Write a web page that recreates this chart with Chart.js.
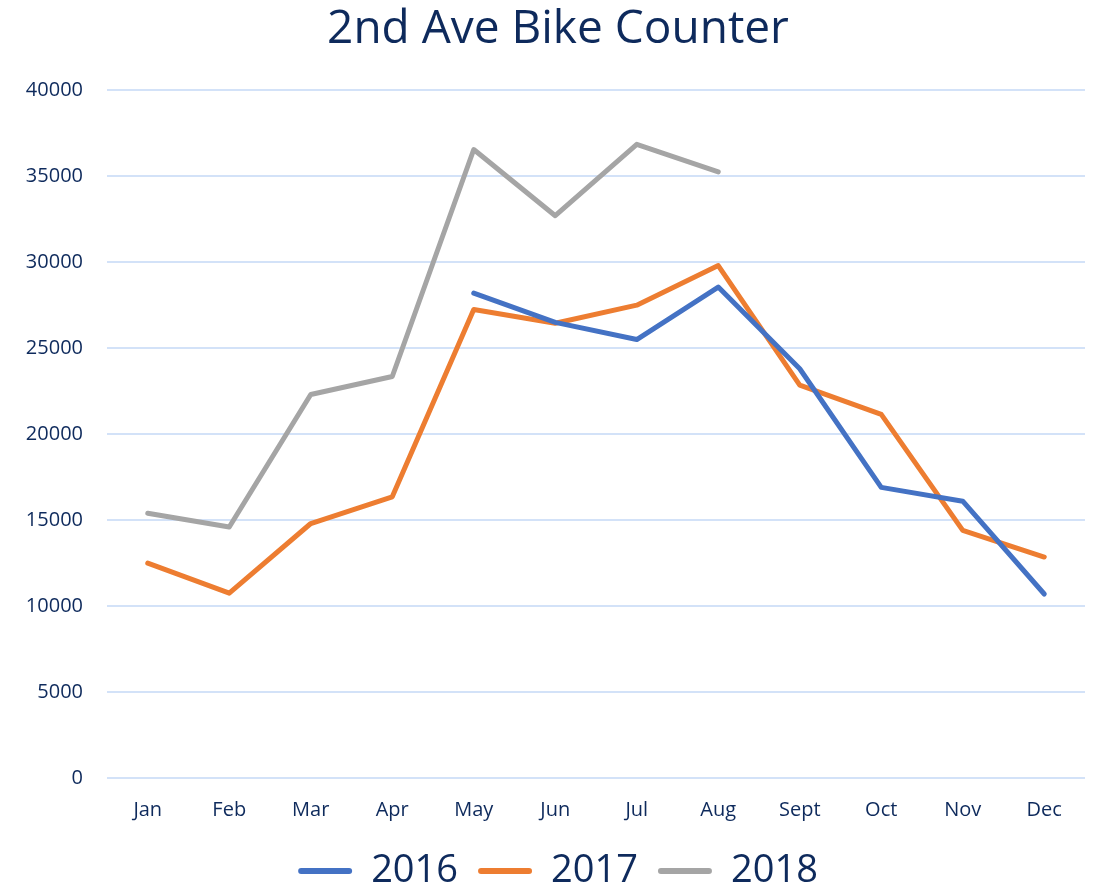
<!DOCTYPE html>
<html>
<head>
<meta charset="utf-8">
<script src="https://cdn.jsdelivr.net/npm/chart.js@4"></script>
<style>
html,body{margin:0;padding:0;background:#fff;}
#wrap{width:1096px;height:890px;position:relative;}
</style>
</head>
<body>
<div id="wrap"><canvas id="c" width="1096" height="890"></canvas></div>
<script>
const months = ["Jan","Feb","Mar","Apr","May","Jun","Jul","Aug","Sept","Oct","Nov","Dec"];
const data2016 = [null,null,null,null,28200,26500,25500,28550,23800,16900,16100,10700];
const data2017 = [12500,10750,14800,16350,27250,26450,27500,29800,22850,21150,14400,12850];
const data2018 = [15400,14600,22300,23350,36550,32700,36850,35250,null,null,null,null];
const yTicks = [0,5000,10000,15000,20000,25000,30000,35000,40000];

const textColor = '#0e2a5c';
const font = "'Open Sans', 'Liberation Sans', sans-serif";

function ds(label, d, color){
  return {label, data:d, borderColor:color, backgroundColor:color, borderWidth:5,
    pointRadius:0, pointHoverRadius:0, tension:0, spanGaps:false,
    borderCapStyle:'round', borderJoinStyle:'round'};
}

new Chart(document.getElementById('c'), {
  type:'line',
  data:{labels:months, datasets:[ds('2016',data2016,'#4472C4'), ds('2017',data2017,'#ED7D31'), ds('2018',data2018,'#A5A5A5')]},
  options:{
    responsive:false, animation:false, devicePixelRatio:1,
    layout:{padding:{left:20,right:0,top:0,bottom:-10}},
    plugins:{
      title:{display:true, text:'2nd Ave Bike Counter', color:textColor,
        font:{family:font, size:46, weight:'normal', lineHeight:1.2}, padding:{top:2,bottom:33}},
      legend:{display:true, position:'bottom',
        labels:{color:textColor, font:{family:font, size:38}, boxWidth:54, boxHeight:6, padding:20,
          generateLabels(chart){
            return chart.data.datasets.map((d,i)=>({text:d.label, fillStyle:d.borderColor, strokeStyle:d.borderColor, lineWidth:0, fontColor:textColor, datasetIndex:i, borderRadius:3}));
          }}},
      tooltip:{enabled:false}
    },
    scales:{
      x:{offset:true, grid:{display:false, drawTicks:false}, border:{display:false},
        ticks:{color:textColor, font:{family:font, size:20}, padding:20, maxRotation:0},
        afterFit(s){ s.height = 54; }},
      y:{min:0, max:40000, grid:{color:'#d3e2f8', lineWidth:2, drawTicks:false}, border:{display:false},
        afterBuildTicks(s){ s.ticks = yTicks.map(v=>({value:v})); },
        ticks:{color:textColor, font:{family:font, size:20}, padding:24, callback:v=>String(v)},
        afterFit(s){ s.width = 87; }},
      yR:{position:'right', display:true, min:0, max:40000, grid:{display:false, drawTicks:false}, border:{display:false},
        ticks:{display:false}, afterFit(s){ s.width = 11; }}
    }
  }
});
</script>
</body>
</html>
